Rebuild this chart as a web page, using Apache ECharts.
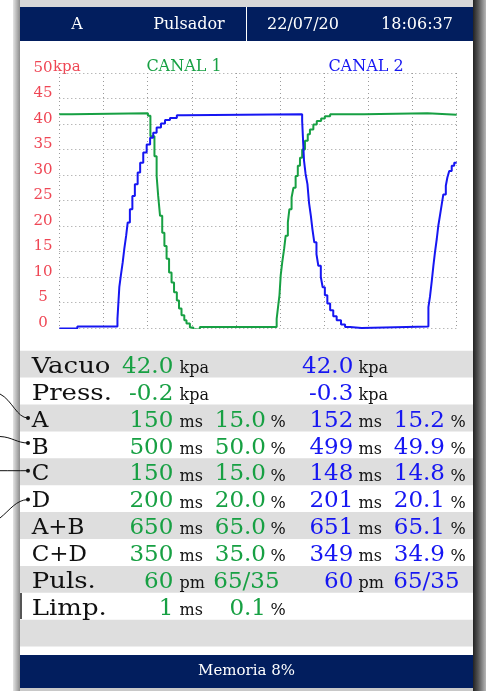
<!DOCTYPE html>
<html>
<head>
<meta charset="utf-8">
<script src="https://cdn.jsdelivr.net/npm/echarts@6/dist/echarts.min.js"></script>
<style>
  html, body { margin: 0; padding: 0; background: #fff; }
  #chart { width: 486px; height: 691px; }
</style>
</head>
<body>
<div id="chart"></div>
<script>
const canal1T = [0, 40, 285, 293, 306, 313, 318, 324, 331, 338, 345, 353, 361, 369, 378, 385, 393, 402, 409, 420, 431, 452,
  699, 704, 708, 712, 717, 723, 728, 735, 740, 747, 753, 760, 767, 774, 781, 790, 799, 806, 817, 828, 842, 854, 871, 980, 1184, 1278];
const canal1V = [41.9, 42.1, 41.6, 37.6, 33.7, 29.8, 25.9, 22.0, 18.7, 16.1, 13.6, 10.9, 8.9, 7.0, 5.4, 3.8, 2.5, 1.5, 0.9, 0.1, -0.3, 0.2,
  1.8, 4.4, 6.4, 10.3, 12.9, 15.5, 18.1, 20.7, 23.3, 25.6, 27.5, 29.8, 31.8, 33.4, 35.0, 36.7, 38.0, 38.9, 39.9, 40.6, 41.1, 41.5, 41.9, 42.1, 41.8, 41.8];

// canal 2 (azul)
const canal2T = [0, 58, 187, 193, 198, 204, 209, 215, 220, 227, 235, 243, 252, 260, 270, 281, 292, 302, 313, 327, 340, 356, 378, 399,
  781, 787, 792, 798, 803, 809, 814, 820, 827, 833, 841, 847, 854, 862, 871, 881, 892, 906, 919, 935, 972,
  1187, 1192, 1198, 1203, 1208, 1214, 1219, 1224, 1230, 1235, 1243, 1248, 1254, 1262, 1270, 1278];
const canal2V = [-0.1, 0.3, 1.8, 8.0, 10.3, 12.9, 15.5, 18.1, 20.7, 23.3, 25.9, 28.2, 30.5, 32.4, 34.4, 36.0, 37.3, 38.3, 39.3, 40.1, 40.8, 41.2, 41.7, 41.9,
  40.6, 32.8, 30.2, 28.2, 24.6, 22.0, 19.4, 16.8, 14.5, 12.2, 10.0, 8.0, 6.4, 4.8, 3.5, 2.3, 1.5, 0.7, 0.2, 0.0, 0.3,
  4.1, 6.1, 9.3, 12.2, 14.8, 17.5, 20.1, 22.0, 24.3, 26.2, 27.9, 29.5, 30.8, 31.8, 32.4, 32.4];

// cabecera
const headerTexts = ['A', 'Pulsador', '22/07/20', '18:06:37'];
const footerText = 'Memoria 8%';

// tabla
const rowLabels = ['Vacuo', 'Press.', 'A', 'B', 'C', 'D', 'A+B', 'C+D', 'Puls.', 'Limp.'];
const c1Val = ['42.0', '-0.2', '150', '500', '150', '200', '650', '350', '60', '1'];
const c1Unit = ['kpa', 'kpa', 'ms', 'ms', 'ms', 'ms', 'ms', 'ms', 'pm', 'ms'];
const c1Pct = ['', '', '15.0', '50.0', '15.0', '20.0', '65.0', '35.0', '65/35', '0.1'];
const c2Val = ['42.0', '-0.3', '152', '499', '148', '201', '651', '349', '60', ''];
const c2Unit = ['kpa', 'kpa', 'ms', 'ms', 'ms', 'ms', 'ms', 'ms', 'pm', ''];
const c2Pct = ['', '', '15.2', '49.9', '14.8', '20.1', '65.1', '34.9', '65/35', ''];

const GREEN = '#17a043';
const BLUE = '#1616f2';
const RED = '#ef4654';
const NAVY = '#021e5e';
const FONT = '"DejaVu Serif", serif';

const chartObj = echarts.init(document.getElementById('chart'));

let g = [];
// marco
g.push({ type: 'rect', shape: { x: 13, y: 0, width: 473, height: 7 }, style: { fill: '#d8d8d8' } });
g.push({ type: 'rect', shape: { x: 13, y: 688, width: 473, height: 3 }, style: { fill: '#c8c8c8' } });
g.push({ type: 'rect', shape: { x: 13, y: 0, width: 7, height: 691 },
  style: { fill: new echarts.graphic.LinearGradient(0, 0, 1, 0, [{ offset: 0, color: '#e4e4e4' }, { offset: 1, color: '#8c8c8c' }]) } });
g.push({ type: 'rect', shape: { x: 473, y: 0, width: 13, height: 691 },
  style: { fill: new echarts.graphic.LinearGradient(0, 0, 1, 0, [{ offset: 0, color: '#222' }, { offset: 0.4, color: '#555' }, { offset: 1, color: '#b8b8b8' }]) } });

// cabecera / pie
g.push({ type: 'rect', shape: { x: 20, y: 7, width: 453, height: 34 }, style: { fill: NAVY } });
g.push({ type: 'rect', shape: { x: 246, y: 7, width: 1, height: 34 }, style: { fill: '#fff' } });
const headerX = [77, 189, 303, 417];
headerTexts.forEach((t, i) => {
  g.push({ type: 'text', x: headerX[i], y: 24.5, style: { text: t, fill: '#fff', font: '16px ' + FONT, align: 'center', verticalAlign: 'middle' } });
});
g.push({ type: 'rect', shape: { x: 20, y: 655, width: 453, height: 33 }, style: { fill: NAVY } });
g.push({ type: 'text', x: 246.5, y: 671.5, style: { text: footerText, fill: '#fff', font: '15px ' + FONT, align: 'center', verticalAlign: 'middle' } });

// titulos del grafico
g.push({ type: 'text', x: 53, y: 67.5, style: { text: 'kpa', fill: RED, font: '15px ' + FONT, align: 'left', verticalAlign: 'middle' } });
g.push({ type: 'text', x: 184, y: 66.5, style: { text: 'CANAL 1', fill: GREEN, font: '16px ' + FONT, align: 'center', verticalAlign: 'middle' } });
g.push({ type: 'text', x: 366, y: 66.5, style: { text: 'CANAL 2', fill: BLUE, font: '16px ' + FONT, align: 'center', verticalAlign: 'middle' } });

// filas
const rowTop = 350.7, rowH = 26.9;
for (let i = 0; i < 11; i += 2) {
  g.push({ type: 'rect', shape: { x: 20, y: rowTop + i * rowH, width: 453, height: rowH }, style: { fill: '#dedede' } });
}
g.push({ type: 'rect', shape: { x: 20, y: 593, width: 2, height: 26 }, style: { fill: '#555' } });

function big(x, y, t, color, align, sx) {
  g.push({ type: 'text', x: x, y: y, scaleX: sx || 1, style: { text: t, fill: color, font: '23px ' + FONT, align: align, verticalAlign: 'middle' } });
}
function small(x, y, t) {
  g.push({ type: 'text', x: x, y: y, style: { text: t, fill: '#111', font: '16px ' + FONT, align: 'left', verticalAlign: 'middle' } });
}
rowLabels.forEach((lab, i) => {
  const top = rowTop + i * rowH;
  const yb = top + 16.2, ys = top + 18.2;
  // la fuente de la pantalla es algo mas ancha en minusculas
  big(31.7, yb, lab, '#111', 'left', /[a-z]/.test(lab) ? 1.13 : 1);
  big(173.3, yb, c1Val[i], GREEN, 'right');
  small(179.5, ys, c1Unit[i]);
  if (c1Pct[i].indexOf('/') > 0) {
    big(213.3, yb, c1Pct[i], GREEN, 'left');
  } else if (c1Pct[i]) {
    big(266, yb, c1Pct[i], GREEN, 'right');
    small(270.5, ys, '%');
  }
  if (c2Val[i]) {
    big(353.3, yb, c2Val[i], BLUE, 'right');
    small(358.5, ys, c2Unit[i]);
  }
  if (c2Pct[i].indexOf('/') > 0) {
    big(393.3, yb, c2Pct[i], BLUE, 'left');
  } else if (c2Pct[i]) {
    big(445, yb, c2Pct[i], BLUE, 'right');
    small(450.5, ys, '%');
  }
});

// lineas de referencia a la izquierda
const conn = [
  [0, 394, 12, 400, 17, 418, 28, 418],
  [0, 436.5, 12, 437, 17, 443, 28, 443],
  [0, 470.7, 10, 470.7, 18, 470.7, 28, 470.7],
  [0, 518, 10, 510, 16, 500, 28, 499.5]
];
conn.forEach(c => {
  g.push({ type: 'bezierCurve', shape: { x1: c[0], y1: c[1], cpx1: c[2], cpy1: c[3], cpx2: c[4], cpy2: c[5], x2: c[6], y2: c[7] },
    style: { stroke: '#111', lineWidth: 1, fill: null } });
  g.push({ type: 'circle', shape: { cx: c[6], cy: c[7], r: 2 }, style: { fill: '#111' } });
});

let option = {
  backgroundColor: '#fff',
  animation: false,
  grid: { left: 59.3, right: 29.3, top: 73, bottom: 363 },
  xAxis: {
    type: 'value',
    min: 0,
    max: 1278,
    interval: 142,
    axisLine: { show: false },
    axisTick: { show: false },
    axisLabel: { show: false },
    splitLine: { show: true, lineStyle: { color: '#9a9a9a', type: [1, 3], width: 1 } }
  },
  yAxis: {
    type: 'value',
    min: 0,
    max: 50,
    interval: 5,
    axisLine: { show: false },
    axisTick: { show: false },
    axisLabel: {
      align: 'center',
      margin: 16.3,
      formatter: function(v) {
        return '{a|' + v + '}';
      },
      rich: {
        a: { color: RED, fontFamily: FONT, fontSize: 15, padding: [0, 0, 10, 0] }
      }
    },
    splitLine: { show: true, lineStyle: { color: '#9a9a9a', type: [1, 3], width: 1 } }
  },
  series: [
    {
      name: 'CANAL 1',
      type: 'line',
      step: 'end',
      showSymbol: false,
      lineStyle: { color: GREEN, width: 2 },
      data: canal1T.map((t, i) => [t, canal1V[i]])
    },
    {
      name: 'CANAL 2',
      type: 'line',
      step: 'end',
      showSymbol: false,
      lineStyle: { color: BLUE, width: 2 },
      data: canal2T.map((t, i) => [t, canal2V[i]])
    }
  ],
  graphic: g
};
chartObj.setOption(option);
window.addEventListener('resize', function() {
  chartObj.resize();
});
</script>
</body>
</html>
